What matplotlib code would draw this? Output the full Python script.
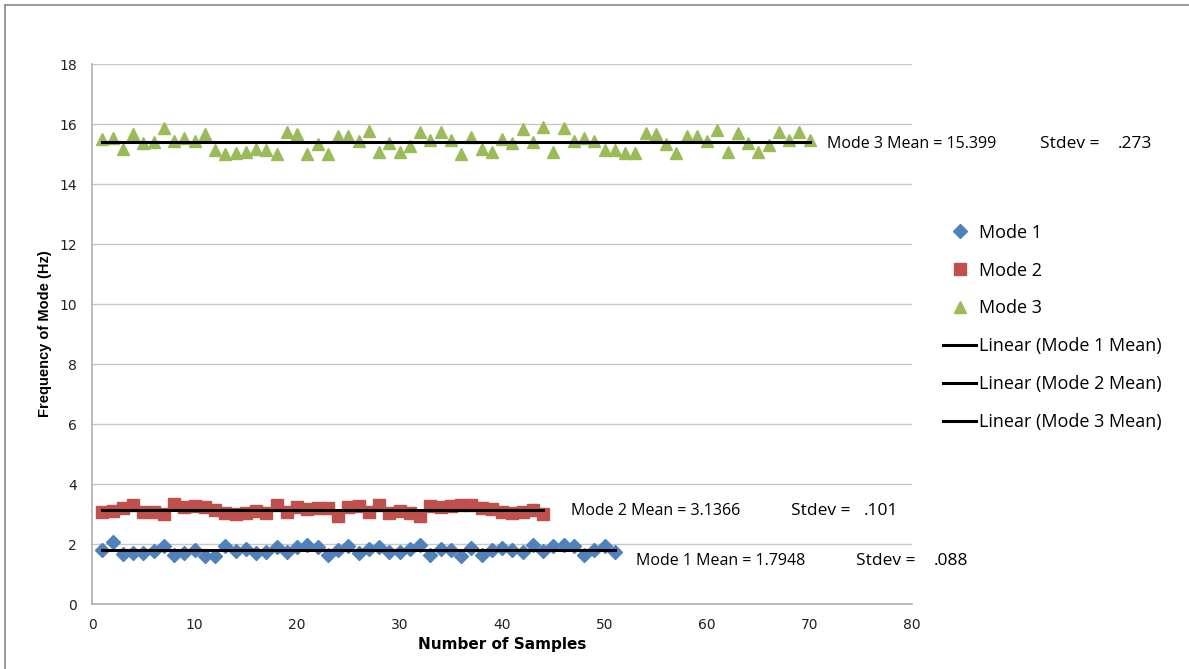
import numpy as np
import matplotlib.pyplot as plt
from matplotlib.lines import Line2D

# mode frequencies (Hz) for each sample
mode1 = [1.80, 2.08, 1.67, 1.69, 1.69, 1.78, 1.93, 1.63, 1.69, 1.80,
         1.60, 1.60, 1.93, 1.77, 1.83, 1.71, 1.73, 1.89, 1.73, 1.89,
         1.97, 1.89, 1.63, 1.80, 1.93, 1.69, 1.83, 1.89, 1.73, 1.72,
         1.83, 1.97, 1.63, 1.83, 1.80, 1.60, 1.88, 1.63, 1.80, 1.88,
         1.80, 1.73, 1.97, 1.77, 1.93, 1.97, 1.93, 1.63, 1.80, 1.93,
         1.72]
mode2 = [3.08, 3.11, 3.19, 3.30, 3.08, 3.06, 2.99, 3.32, 3.24, 3.28,
         3.24, 3.13, 3.04, 2.99, 3.04, 3.11, 3.02, 3.30, 3.06, 3.24,
         3.17, 3.21, 3.19, 2.94, 3.24, 3.28, 3.06, 3.30, 3.02, 3.11,
         3.04, 2.93, 3.28, 3.22, 3.28, 3.30, 3.30, 3.19, 3.17, 3.08,
         3.02, 3.08, 3.13, 2.99]
mode3 = [15.49, 15.52, 15.16, 15.66, 15.36, 15.39, 15.88, 15.43, 15.52, 15.43,
         15.66, 15.13, 15.00, 15.02, 15.08, 15.17, 15.13, 15.00, 15.74, 15.66,
         15.00, 15.32, 15.00, 15.60, 15.60, 15.43, 15.78, 15.06, 15.38, 15.06,
         15.28, 15.74, 15.47, 15.72, 15.47, 14.99, 15.58, 15.17, 15.06, 15.50,
         15.36, 15.83, 15.39, 15.89, 15.06, 15.86, 15.43, 15.52, 15.43, 15.13,
         15.13, 15.02, 15.02, 15.71, 15.66, 15.32, 15.02, 15.60, 15.60, 15.43,
         15.80, 15.08, 15.71, 15.38, 15.08, 15.30, 15.74, 15.47, 15.74, 15.47]

means = [1.7948, 3.1366, 15.399]
mean_labels = ["1.7948", "3.1366", "15.399"]
stdevs = [".088", ".101", ".273"]

series_names = ["Mode 1", "Mode 2", "Mode 3"]
mean_names = ["Linear (Mode 1 Mean)", "Linear (Mode 2 Mean)", "Linear (Mode 3 Mean)"]

colors = ["#4F81BD", "#C0504D", "#9BBB59"]
markers = ["D", "s", "^"]
msizes = [7.5, 8, 9]

W, H = 1189, 669
fig = plt.figure(figsize=(W / 100, H / 100), dpi=100)
ax = fig.add_axes([92/W, 1 - 604/H, 820/W, 540/H])

handles = []
for data, c, m, ms, name in zip([mode1, mode2, mode3], colors, markers, msizes, series_names):
    x = np.arange(1, len(data) + 1)
    h, = ax.plot(x, data, linestyle="none", marker=m, markersize=ms,
                 color=c, markeredgecolor=c, label=name, zorder=3)
    handles.append(h)

line_handles = []
for data, mu, name in zip([mode1, mode2, mode3], means, mean_names):
    n = len(data)
    h, = ax.plot([1, n], [mu, mu], color="black", lw=2.2, label=name, zorder=4)
    line_handles.append(h)

ax.set_xlim(0, 80)
ax.set_ylim(0, 18)
ax.set_xticks(np.arange(0, 81, 10))
ax.set_yticks(np.arange(0, 19, 2))
ax.yaxis.grid(True, color="#c8c8c8", lw=1)
ax.set_axisbelow(True)
for s in ["top", "right"]:
    ax.spines[s].set_visible(False)
for s in ["left", "bottom"]:
    ax.spines[s].set_color("#b0b0b0")
    ax.spines[s].set_linewidth(1.2)
ax.tick_params(length=0, labelsize=10, colors="#222222")
ax.tick_params(axis="y", pad=11)
ax.tick_params(axis="x", pad=10)

ax.set_xlabel("Number of Samples", fontsize=11, fontweight="bold", labelpad=4)
ax.set_ylabel("Frequency of Mode (Hz)", fontsize=10.5, fontweight="bold",
              family="Liberation Sans", labelpad=5)

# mean / stdev notes next to each trend line (pixel positions of the text starts)
txt_font = dict(family="Open Sans", va="center", clip_on=False)
note_x = [636, 571, 827]
stdev_x = [856, 791, 1040]
value_end = [968, 898, 1152]
note_y = [561, 511, 144]
for i in range(3):
    yy = 1 - note_y[i] / H
    fig.text(note_x[i] / W, yy, "Mode %d Mean = %s" % (i + 1, mean_labels[i]),
             ha="left", fontsize=11.5, **txt_font)
    fig.text(stdev_x[i] / W, yy, "Stdev =", ha="left", fontsize=12.5, **txt_font)
    fig.text(value_end[i] / W, yy, stdevs[i], ha="right", fontsize=12.5, **txt_font)

fig.legend(handles + line_handles, series_names + mean_names,
           loc="upper left", bbox_to_anchor=(927/W, 1 - 207.5/H),
           frameon=False, numpoints=1, handlelength=1.8, handletextpad=0.2,
           labelspacing=1.1, prop=dict(family="Open Sans", size=13))

# chart area frame (left and top edges)
fig.add_artist(Line2D([5/W, 5/W], [0, 1 - 5/H], transform=fig.transFigure,
                      color="#888888", lw=1.2))
fig.add_artist(Line2D([5/W, 1], [1 - 5/H, 1 - 5/H], transform=fig.transFigure,
                      color="#888888", lw=1.2))

fig.savefig("out.png", dpi=100)
